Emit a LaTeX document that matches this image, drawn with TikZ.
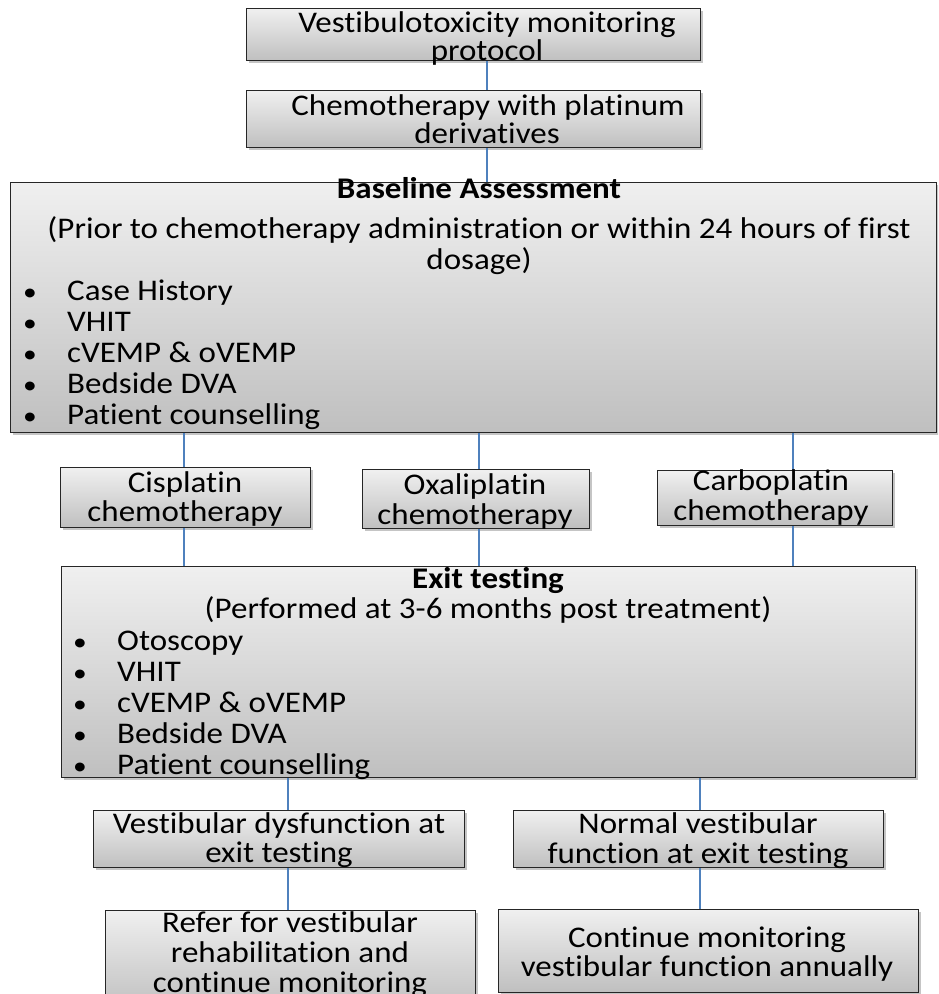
\documentclass[tikz,border=0pt]{standalone}
\usepackage{fontspec}
\setmainfont{Carlito}[Ligatures={NoCommon}, FakeStretch=1.1]
\usetikzlibrary{shadows}
\definecolor{linkblue}{HTML}{4F81BD}
\begin{document}
\begin{tikzpicture}[x=1pt,y=-1pt,
  box/.style={draw=black!85, line width=1.4pt, top color=black!6, bottom color=black!25,
    inner sep=0pt, anchor=north west,
    drop shadow={shadow xshift=2pt, shadow yshift=-2.5pt, fill=black!45, opacity=0.5}},
  conn/.style={draw=linkblue, line width=1.3pt},
  txt/.style={font=\fontsize{30}{31}\selectfont, inner sep=0pt, anchor=base},
  head/.style={txt, font=\fontsize{30}{31}\selectfont\bfseries},
  item/.style={txt, anchor=base west},
  dot/.style={txt, font=\fontsize{25}{31}\selectfont}]
\useasboundingbox (0,0) rectangle (938,994);
\clip (0,0) rectangle (938,994);

% boxes
\node[box, minimum width=454pt, minimum height=52pt]  (prot)  at (246,8)   {};
\node[box, minimum width=454pt, minimum height=57pt]  (chemo) at (246,90)  {};
\node[box, minimum width=926pt, minimum height=250pt] (base)  at (10,182)  {};
\node[box, minimum width=250pt, minimum height=60pt]  (cis)   at (60,467)  {};
\node[box, minimum width=227pt, minimum height=59pt]  (oxa)   at (362,469) {};
\node[box, minimum width=235pt, minimum height=55pt]  (carbo) at (657,470) {};
\node[box, minimum width=854pt, minimum height=211pt] (exit)  at (61,566)  {};
\node[box, minimum width=371pt, minimum height=57pt]  (dys)   at (93,810)  {};
\node[box, minimum width=370pt, minimum height=57pt]  (norm)  at (513,810) {};
\node[box, minimum width=370pt, minimum height=100pt] (refer) at (105,910) {};
\node[box, minimum width=420pt, minimum height=83pt]  (cont)  at (498,909) {};

% connector columns
\coordinate (xa) at (487,0);
\coordinate (xb) at (184,0);
\coordinate (xc) at (479,0);
\coordinate (xd) at (793,0);
\coordinate (xe) at (288,0);
\coordinate (xf) at (700,0);

\draw[conn] (prot.south -| xa)  -- (chemo.north -| xa);
\draw[conn] (chemo.south -| xa) -- (base.north -| xa);
\draw[conn] (base.south -| xb)  -- (cis.north -| xb);
\draw[conn] (base.south -| xc)  -- (oxa.north -| xc);
\draw[conn] (base.south -| xd)  -- (carbo.north -| xd);
\draw[conn] (cis.south -| xb)   -- (exit.north -| xb);
\draw[conn] (oxa.south -| xc)   -- (exit.north -| xc);
\draw[conn] (carbo.south -| xd) -- (exit.north -| xd);
\draw[conn] (exit.south -| xe)  -- (dys.north -| xe);
\draw[conn] (exit.south -| xf)  -- (norm.north -| xf);
\draw[conn] (dys.south -| xe)   -- (refer.north -| xe);
\draw[conn] (norm.south -| xf)  -- (cont.north -| xf);

% texts
\node[txt] (prot1) at (487,32) {Vestibulotoxicity monitoring};
\node[txt] (prot2) at (487,60) {protocol};
\node[txt] (chemo1) at (488,115) {Chemotherapy with platinum};
\node[txt] (chemo2) at (487,143) {derivatives};

\node[head] (baseh) at (479,198) {Baseline Assessment};
\node[txt] (base1) at (479,238) {(Prior to chemotherapy administration or within 24 hours of first};
\node[txt] (base2) at (479,269) {dosage)};
\foreach \t [count=\i] in {Case History, VHIT, cVEMP \& oVEMP, Bedside DVA, Patient counselling}{
  \node[dot] (bd\i) at (30,{269+31*\i}) {•};
  \node[item] (bi\i) at (67,{269+31*\i}) {\t};
}

\node[txt] (cis1) at (185,492) {Cisplatin};
\node[txt] (cis2) at (185,521) {chemotherapy};
\node[txt] (oxa1) at (475,494) {Oxaliplatin};
\node[txt] (oxa2) at (475,524) {chemotherapy};
\node[txt] (carbo1) at (771,490) {Carboplatin};
\node[txt] (carbo2) at (771,520) {chemotherapy};

\node[head] (exith) at (488,588) {Exit testing};
\node[txt] (exit1) at (488,618) {(Performed at 3-6 months post treatment)};
\foreach \t [count=\i] in {Otoscopy, VHIT, cVEMP \& oVEMP, Bedside DVA, Patient counselling}{
  \node[dot] (ed\i) at (80,{619+31*\i}) {•};
  \node[item] (ei\i) at (117,{619+31*\i}) {\t};
}

\node[txt] (dys1) at (279,833) {Vestibular dysfunction at};
\node[txt] (dys2) at (279,862) {exit testing};
\node[txt] (norm1) at (698,833) {Normal vestibular};
\node[txt] (norm2) at (698,863) {function at exit testing};
\node[txt] (refer1) at (290,932) {Refer for vestibular};
\node[txt] (refer2) at (290,962) {rehabilitation and};
\node[txt] (refer3) at (290,992) {continue monitoring};
\node[txt] (cont1) at (707,947) {Continue monitoring};
\node[txt] (cont2) at (707,976) {vestibular function annually};
\end{tikzpicture}
\end{document}
